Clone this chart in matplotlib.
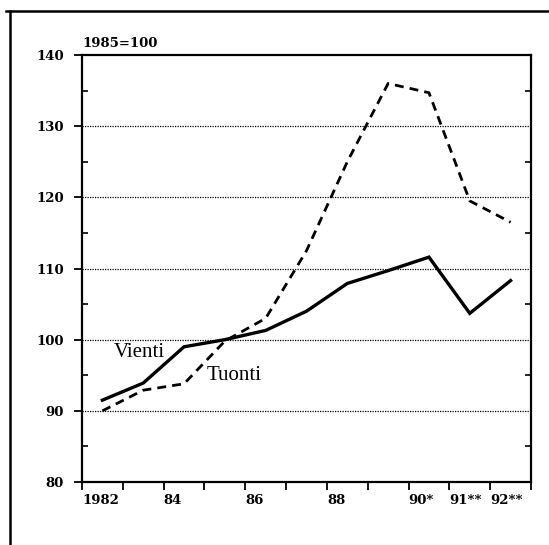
import matplotlib
matplotlib.use("Agg")
import matplotlib.pyplot as plt
from matplotlib.lines import Line2D
from matplotlib.ticker import MultipleLocator

years = [1982, 1983, 1984, 1985, 1986, 1987, 1988, 1989, 1990, 1991, 1992]
vienti = [91.5, 93.9, 99.0, 100.0, 101.3, 104.0, 107.9, 109.7, 111.6, 103.7, 108.3]
tuonti = [90.0, 92.9, 93.8, 99.8, 103.0, 112.5, 125.0, 136.0, 134.7, 119.5, 116.5]
tick_labels = ["1982", "", "84", "", "86", "", "88", "", "90*", "91**", "92**", ""]

W, H = 549, 545
fig = plt.figure(figsize=(W / 100, H / 100), dpi=100)
ax = fig.add_axes([82 / W, 1 - 482 / H, 449 / W, 427 / H])

ax.plot(years, vienti, color="black", lw=2.4, solid_joinstyle="miter")
ax.plot(years, tuonti, color="black", lw=2.0, dashes=(3.2, 2.2))

ax.set_xlim(1981.5, 1992.5)
ax.set_ylim(80, 140)

tick_font = dict(family="DejaVu Serif", weight="bold", size=9.5)

# x ticks sit on year boundaries, labels hang off to the right of them
bounds = [y - 0.5 for y in years] + [years[-1] + 0.5]
ax.set_xticks(bounds)
ax.set_xticklabels(tick_labels, ha="left", **tick_font)
ax.tick_params(axis="x", direction="out", length=6, width=1.3, pad=3)

ax.yaxis.set_major_locator(MultipleLocator(10))
ax.yaxis.set_minor_locator(MultipleLocator(5))
for lab in ax.get_yticklabels():
    lab.set(**tick_font)
ax.tick_params(axis="y", which="major", direction="out", length=6, width=1.3, pad=7,
               left=True, right=False)
ax.tick_params(axis="y", which="minor", direction="in", length=4, width=1.2,
               left=True, right=True)

for v in [90, 100, 110, 120, 130]:
    ax.axhline(v, color="black", lw=0.9, ls=(0, (1, 1)), zorder=0)

for s in ax.spines.values():
    s.set_linewidth(1.6)

ax.text(0, 1.012, "1985=100", transform=ax.transAxes, ha="left", va="bottom", **tick_font)

ax.text(1982.28, 99.6, "Vienti", family="Liberation Serif", size=15, ha="left", va="top")
ax.text(1984.55, 96.3, "Tuonti", family="Liberation Serif", size=15, ha="left", va="top")

# outer frame of the scanned page (cropped on right and bottom)
fig.add_artist(Line2D([6 / W, 1], [1 - 11 / H, 1 - 11 / H], color="black", lw=1.8,
                      transform=fig.transFigure))
fig.add_artist(Line2D([10 / W, 10 / W], [0, 1 - 11 / H], color="black", lw=1.8,
                      transform=fig.transFigure))

fig.savefig("out.png", dpi=100)
